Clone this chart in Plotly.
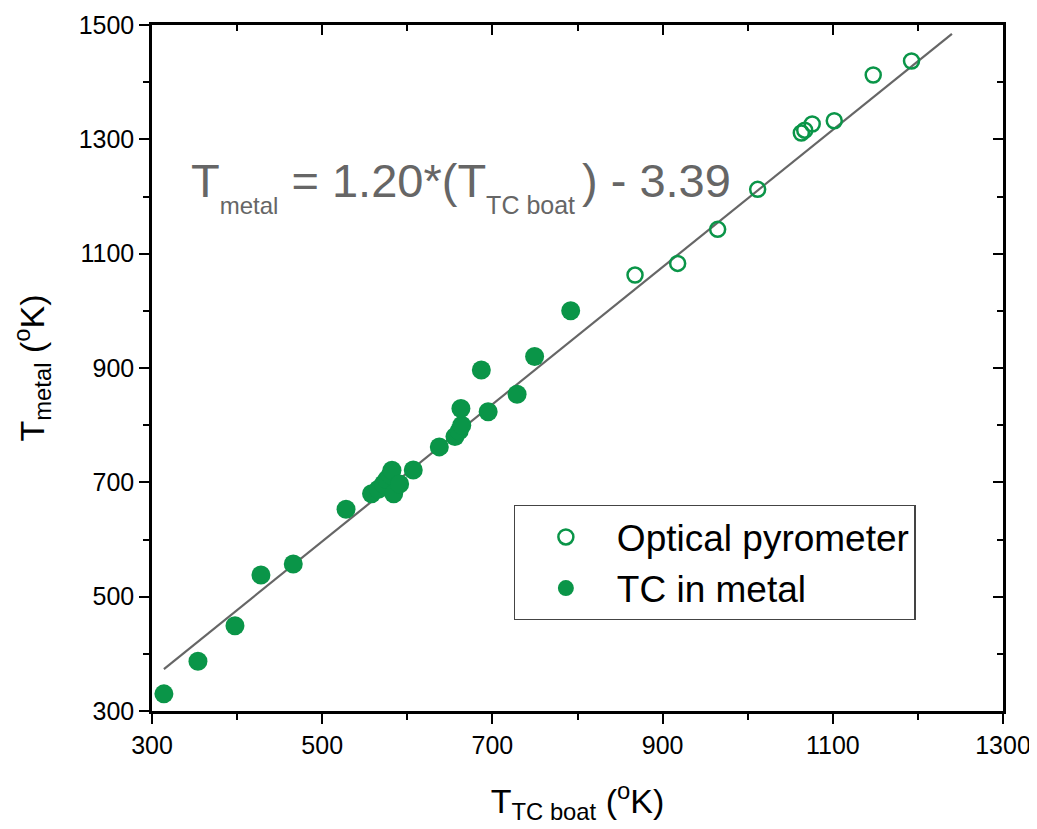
import plotly.graph_objects as go

# Data
tc_x = [314, 354, 397.5, 428, 466, 528, 558, 566, 572, 576, 580, 582, 584, 591, 607,
        637.6, 656, 661, 664, 663, 687, 695, 729, 749.6, 792]
tc_y = [330, 387, 449, 538, 557, 653, 680, 688, 697, 705, 713, 721, 680, 697, 721.6,
        762, 780, 790, 800, 829, 896.5, 823.6, 854, 920, 1000]

op_x = [867.6, 917.7, 964.7, 1011.7, 1063, 1067, 1075.8, 1101.7, 1147.5, 1192.5]
op_y = [1062.6, 1083, 1142.5, 1212.5, 1311, 1316, 1326.8, 1332.5, 1412.5, 1437]

slope = 1.20
intercept = -3.39
fit_x = [314, 1240]
fit_y = [slope * v + intercept for v in fit_x]

x_ticks = [300, 500, 700, 900, 1100, 1300]
y_ticks = [300, 500, 700, 900, 1100, 1300, 1500]

GREEN = "#0a9548"
FONT = "Liberation Sans, Arial, sans-serif"

fig = go.Figure()
fig.add_trace(go.Scatter(x=fit_x, y=fit_y, mode="lines",
                         line=dict(color="#666666", width=2.2), showlegend=False))
fig.add_trace(go.Scatter(x=op_x, y=op_y, mode="markers", name="Optical pyrometer",
                         marker=dict(symbol="circle-open", size=15, color=GREEN,
                                     line=dict(width=2.5, color=GREEN))))
fig.add_trace(go.Scatter(x=tc_x, y=tc_y, mode="markers", name="TC in metal",
                         marker=dict(symbol="circle", size=19, color=GREEN)))
# invisible trace for mirrored axes
fig.add_trace(go.Scatter(x=[300], y=[300], xaxis="x2", yaxis="y2", mode="markers",
                         marker=dict(opacity=0), showlegend=False, hoverinfo="skip"))

axis_common = dict(showgrid=False, zeroline=False, linecolor="black", linewidth=2.5,
                   ticks="outside", ticklen=10, tickwidth=2, tickcolor="black", automargin=False,
                   tickfont=dict(family=FONT, size=25, color="black"),
                   minor=dict(ticks="outside", ticklen=6, tickwidth=2, tickcolor="black", dtick=100))

fig.update_layout(
    width=1029, height=821,
    margin=dict(l=144, r=34, t=17, b=118),
    paper_bgcolor="white", plot_bgcolor="white",
    font=dict(family=FONT),
    xaxis=dict(range=[300, 1300], tickvals=x_ticks, showline=True,
               title=dict(text="T<sub>TC boat</sub> (<sup>o</sup>K)",
                          font=dict(family=FONT, size=34, color="black"), standoff=32),
               **axis_common),
    yaxis=dict(range=[300, 1500], tickvals=y_ticks, showline=True,
               title=dict(text="T<sub>metal</sub> (<sup>o</sup>K)",
                          font=dict(family=FONT, size=34, color="black"), standoff=28),
               **axis_common),
    xaxis2=dict(range=[300, 1300], overlaying="x", side="top", anchor="y2", automargin=False,
                showline=True, linecolor="black", linewidth=2.5, showgrid=False, zeroline=False,
                tickvals=x_ticks, ticks="inside", ticklen=10, tickwidth=2, tickcolor="black",
                showticklabels=False,
                minor=dict(ticks="inside", ticklen=6, tickwidth=2, tickcolor="black", dtick=100)),
    yaxis2=dict(range=[300, 1500], overlaying="y", side="right", anchor="x2", automargin=False,
                showline=True, linecolor="black", linewidth=2.5, showgrid=False, zeroline=False,
                tickvals=y_ticks, ticks="inside", ticklen=10, tickwidth=2, tickcolor="black",
                showticklabels=False,
                minor=dict(ticks="inside", ticklen=6, tickwidth=2, tickcolor="black", dtick=100)),
    legend=dict(x=0.425, y=0.30, xanchor="left", yanchor="top",
                bordercolor="#444444", borderwidth=1.2, bgcolor="white",
                font=dict(family=FONT, size=37, color="black"),
                itemsizing="trace", itemwidth=92, tracegroupgap=0),
    annotations=[dict(x=0.044, y=0.765, xref="paper", yref="paper", xanchor="left", yanchor="middle",
                      text="T<sub><sub><span style='font-size:24px'>metal</span></sub></sub> = 1.20*(T<sub><sub><span style='font-size:25px'>TC boat&nbsp;</span></sub></sub>) - 3.39",
                      showarrow=False, font=dict(family=FONT, size=47, color="#666666"))],
)

fig.write_html("out.html")
